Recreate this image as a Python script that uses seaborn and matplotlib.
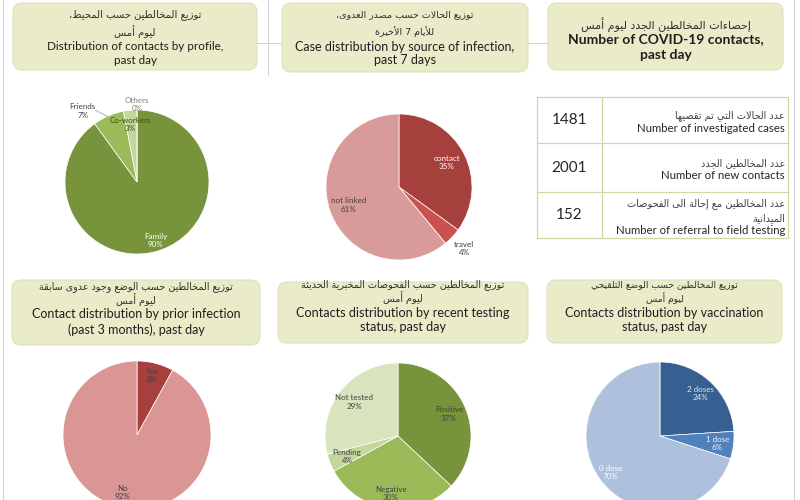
import numpy as np
import matplotlib
matplotlib.use('Agg')
import matplotlib.pyplot as plt
import seaborn as sns
from matplotlib.patches import FancyBboxPatch

# ========= DADOS =========
profile_labels = ['Family', 'Friends', 'Co-workers', 'Others']
profile_pct = [90, 7, 3, 0]

source_labels = ['contact', 'travel', 'not linked']
source_pct = [35, 4, 61]

prior_labels = ['Yes', 'No']
prior_pct = [8, 92]

testing_labels = ['Positive', 'Negative', 'Pending', 'Not tested']
testing_pct = [37, 30, 4, 29]

vacc_labels = ['2 doses', '1 dose', '0 dose']
vacc_pct = [24, 6, 70]

stat_values = [1481, 2001, 152]
stat_ar = ['عدد الحالات التي تم تقصيها',
           'عدد المخالطين الجدد',
           'عدد المخالطين مع إحالة الى الفحوصات\nالميدانية']
stat_en = ['Number of investigated cases',
           'Number of new contacts',
           'Number of referral to field testing']

titles_ar = ['توزيع المخالطين حسب المحيط،\nليوم أمس',
             'توزيع الحالات حسب مصدر العدوى،\nللأيام 7 الأخيرة',
             'إحصاءات المخالطين الجدد ليوم أمس',
             'توزيع المخالطين حسب الوضع وجود عدوى سابقة\nليوم أمس',
             'توزيع المخالطين حسب الفحوصات المخبرية الحديثة\nليوم أمس',
             'توزيع المخالطين حسب الوضع التلقيحي\nليوم أمس']
titles_en = ['Distribution of contacts by profile,\npast day',
             'Case distribution by source of infection,\npast 7 days',
             'Number of COVID-19 contacts,\npast day',
             'Contact distribution by prior infection\n(past 3 months), past day',
             'Contacts distribution by recent testing\nstatus, past day',
             'Contacts distribution by vaccination\nstatus, past day']

# ========= ARABIC SHAPING (sem bibliotecas externas) =========
_codes = list(range(0x0621, 0x063B)) + list(range(0x0641, 0x064B))
_nforms = [1, 2, 2, 2, 2, 4, 2, 4, 2, 4, 4, 4, 4, 4, 2, 2, 2, 2, 4, 4, 4, 4, 4, 4, 4, 4,
           4, 4, 4, 4, 4, 4, 4, 2, 2, 4]
FORMS = {}
_start = 0xFE80
for _c, _n in zip(_codes, _nforms):
    FORMS[chr(_c)] = (_start, _n)
    _start += _n
LAM_ALEF = {'آ': 0xFEF5, 'أ': 0xFEF7, 'إ': 0xFEF9, 'ا': 0xFEFB}


def _joining(tok):
    return len(tok) == 2 or (tok in FORMS and FORMS[tok][1] > 1)


def shape_line(line):
    toks, i = [], 0
    while i < len(line):
        if line[i] == 'ل' and i + 1 < len(line) and line[i + 1] in LAM_ALEF:
            toks.append(line[i:i + 2])
            i += 2
        else:
            toks.append(line[i])
            i += 1
    out = []
    for k, t in enumerate(toks):
        prev = toks[k - 1] if k > 0 else ''
        nxt = toks[k + 1] if k + 1 < len(toks) else ''
        p = prev in FORMS and FORMS[prev][1] == 4
        if len(t) == 2:
            out.append(chr(LAM_ALEF[t[1]] + (1 if p else 0)))
            continue
        if t not in FORMS:
            out.append(t)
            continue
        base, n = FORMS[t]
        if n == 1:
            out.append(chr(base))
            continue
        nx = n == 4 and _joining(nxt)
        idx = 3 if (p and nx) else 1 if p else 2 if nx else 0
        out.append(chr(base + idx))
    return ''.join(reversed(out))


def ar(text):
    return '\n'.join(shape_line(l) for l in text.split('\n'))


# ========= ESTILO =========
sns.set_theme(style='white')
plt.rcParams['font.family'] = ['Lato', 'DejaVu Sans']

W, H = 800, 500
fig = plt.figure(figsize=(8, 5), dpi=100)
fig.patch.set_facecolor('white')


def px(x0, y0, w, h):
    return [x0 / W, 1 - (y0 + h) / H, w / W, h / H]


canvas = fig.add_axes([0, 0, 1, 1])
canvas.set_xlim(0, W)
canvas.set_ylim(H, 0)
canvas.axis('off')

# linhas de fundo do painel
line_c = '#d0d0d0'
canvas.plot([3, 3], [0, 500], color=line_c, lw=0.7, zorder=0)
canvas.plot([794, 794], [0, 500], color=line_c, lw=0.7, zorder=0)
canvas.plot([268, 268], [0, 75], color=line_c, lw=0.7, zorder=0)
canvas.plot([255, 285], [43, 43], color=line_c, lw=0.7, zorder=0)
canvas.plot([526, 550], [43, 43], color=line_c, lw=0.7, zorder=0)

# ========= CAIXAS DE TÍTULO =========
box_fc = '#e9ebc9'
boxes = [(13, 3, 244, 67), (282, 3, 246, 69), (548, 3, 235, 67),
         (12, 280, 248, 65), (278, 282, 250, 61), (547, 280, 235, 63)]
ar_y = [(15, 32), (15, 32), (25,), (287, 300), (285, 298), (285, 298)]
en_y = [(47, 61), (47, 60), (39, 55), (314, 330), (313, 327), (313, 327)]
ar_fs = [7.2, 6.8, 8.0, 6.9, 6.9, 6.6]
en_fs = [8.4, 9.0, 10.0, 9.0, 9.1, 9.0]

for i, (x0, y0, w, h) in enumerate(boxes):
    canvas.add_patch(FancyBboxPatch((x0, y0), w, h,
                                    boxstyle='round,pad=0,rounding_size=9',
                                    fc=box_fc, ec='#dfe2bd', lw=0.8, zorder=1))
    cx = x0 + w / 2
    big = i == 2
    for line, y in zip(titles_ar[i].split('\n'), ar_y[i]):
        canvas.text(cx, y, ar(line), ha='center', va='center',
                    fontsize=ar_fs[i], color='#303030',
                    family=['DejaVu Sans'], zorder=2)
    for line, y in zip(titles_en[i].split('\n'), en_y[i]):
        canvas.text(cx, y, line, ha='center', va='center',
                    fontsize=en_fs[i], color='#1e1e1e',
                    fontweight='bold' if big else 'normal', zorder=2)

# ========= TABELA =========
tab_x = [537, 602, 788]
tab_y = [97, 143, 192, 238]
grid_c = '#c9dba5'
for y in tab_y:
    canvas.plot([tab_x[0], tab_x[-1]], [y, y], color=grid_c, lw=0.9, zorder=2)
for x in tab_x:
    canvas.plot([x, x], [tab_y[0], tab_y[-1]], color=grid_c, lw=0.9, zorder=2)

for i, val in enumerate(stat_values):
    yc = (tab_y[i] + tab_y[i + 1]) / 2
    canvas.text((tab_x[0] + tab_x[1]) / 2, yc, str(val), ha='center',
                va='center', fontsize=11, color='#262626', zorder=3)
    nl = stat_ar[i].count('\n') + 1
    ye = yc + 8 + 7 * (nl - 1)
    canvas.text(tab_x[2] - 3, ye, stat_en[i], ha='right', va='center',
                fontsize=8.2, color='#262626', zorder=3)
    canvas.text(tab_x[2] - 3, ye - 7, ar(stat_ar[i]), ha='right', va='bottom',
                fontsize=7, color='#404040', family=['DejaVu Sans'],
                linespacing=1.5, multialignment='right', zorder=3)


# ========= PIZZAS =========
def pie_panel(cx, cy, r, values, labels, colors, txt_colors, dist, shift=None):
    ax = fig.add_axes(px(cx - r, cy - r, 2 * r, 2 * r))
    wedges, _ = ax.pie(values, colors=colors, startangle=90, counterclock=False,
                       wedgeprops=dict(edgecolor='white', linewidth=0.5))
    ax.set_xlim(-1, 1)
    ax.set_ylim(-1, 1)
    ax.set_aspect('equal')
    ax.axis('off')
    shift = shift or [0] * len(values)
    for w, lab, v, tc, d, s in zip(wedges, labels, values, txt_colors, dist, shift):
        ang = np.deg2rad((w.theta1 + w.theta2) / 2 + s)
        ax.text(d * np.cos(ang), d * np.sin(ang), f'{lab}\n{v}%', ha='center',
                va='center', fontsize=5.8, color=tc, linespacing=1.2)
    return ax, wedges


green_pal = sns.color_palette(['#77933c', '#9bbb59', '#c3d69b', '#d7e4bd'])
red_pal = sns.color_palette(['#a5403d', '#c9524e', '#d99b99'])
blue_pal = sns.color_palette(['#376092', '#4f81bd', '#adc0dc'])
dark = '#404040'

ax1, w1 = pie_panel(137, 182, 72, profile_pct, profile_labels, green_pal,
                    ['white', dark, '#3c4d16', '#808080'],
                    [0.85, 1.24, 0.8, 1.08], [0, 14, 1, 0])
mid = np.deg2rad((w1[1].theta1 + w1[1].theta2) / 2)
ax1.plot([-0.58, 0.98 * np.cos(mid)], [1.0, 0.98 * np.sin(mid)],
         color='#a6a6a6', lw=0.6, clip_on=False)

pie_panel(399, 187, 73, source_pct, source_labels, red_pal,
          ['white', dark, dark], [0.73, 1.23, 0.73])

pie_panel(137, 435, 74, prior_pct, prior_labels,
          sns.color_palette(['#a5403d', '#d99694']),
          [dark, dark], [0.83, 0.8])

pie_panel(398, 436, 73, testing_pct, testing_labels, green_pal,
          [dark, dark, dark, dark], [0.76, 0.79, 0.75, 0.76])

pie_panel(660, 436, 74, vacc_pct, vacc_labels, blue_pal,
          ['#dce6f2', '#eef3fa', 'white'], [0.79, 0.78, 0.83])

fig.savefig('out.png', dpi=100, facecolor='white')
